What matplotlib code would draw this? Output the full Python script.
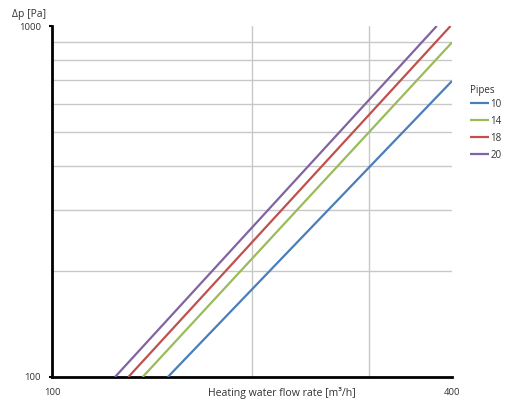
import matplotlib
matplotlib.use("Agg")
import matplotlib.pyplot as plt
from matplotlib.ticker import FixedLocator, NullFormatter

# ── Data (log-log straight lines, endpoints) ─────────────────────────────
pipes = ["10", "14", "18", "20"]
flow_10 = [149.4, 400.0]
dp_10 = [100.0, 697.0]
flow_14 = [136.9, 400.0]
dp_14 = [100.0, 898.0]
flow_18 = [130.3, 398.0]
dp_18 = [100.0, 1000.0]
flow_20 = [124.4, 379.4]
dp_20 = [100.0, 1000.0]
colors = ["#4a7ebb", "#9bbb59", "#c0504d", "#8064a2"]

x_ticks = [100, 400]
y_ticks = [100, 1000]
x_grid = [200, 300, 400]
y_grid = [200, 300, 400, 500, 600, 700, 800, 900, 1000]

plt.rcParams["font.family"] = ["Open Sans", "DejaVu Sans"]

fig = plt.figure(figsize=(5.19, 4.03), dpi=100)
ax = fig.add_axes([52 / 519, 1 - 377 / 403, 400 / 519, 351 / 403])

series = [(flow_10, dp_10), (flow_14, dp_14), (flow_18, dp_18), (flow_20, dp_20)]
for (fx, dy), name, col in zip(series, pipes, colors):
    ax.plot(fx, dy, color=col, lw=1.6, label=name, solid_capstyle="butt", zorder=3)

ax.set_xscale("log")
ax.set_yscale("log")
ax.set_xlim(100, 400)
ax.set_ylim(100, 1000)

ax.set_xticks(x_ticks, [str(v) for v in x_ticks])
ax.set_yticks(y_ticks, [str(v) for v in y_ticks])
ax.xaxis.set_minor_locator(FixedLocator(x_grid))
ax.yaxis.set_minor_locator(FixedLocator(y_grid))
ax.xaxis.set_minor_formatter(NullFormatter())
ax.yaxis.set_minor_formatter(NullFormatter())
ax.tick_params(which="minor", length=0)
ax.tick_params(which="major", length=2, width=1.5, labelsize=6.8, color="black",
               labelcolor="#333333")
ax.tick_params(axis="x", which="major", length=0, pad=8)
ax.tick_params(axis="y", which="major", pad=6)
ax.grid(which="minor", color="#c8c8c8", lw=1.0, zorder=0)

for s in ["top", "right"]:
    ax.spines[s].set_visible(False)
ax.spines["left"].set_linewidth(2)
ax.spines["bottom"].set_linewidth(2)

fig.text(12 / 519, 1 - 14 / 403, "Δp [Pa]", fontsize=7.5, color="#333333", va="center")
fig.text(282 / 519, 1 - 393 / 403, "Heating water flow rate [m³/h]", fontsize=7.6,
         color="#333333", ha="center", va="center")

leg = ax.legend(title="Pipes", loc="upper left", bbox_to_anchor=(470 / 519, 1 - 85 / 403),
                bbox_transform=fig.transFigure, frameon=False, fontsize=7,
                title_fontsize=7, handlelength=2.0, handletextpad=0.1,
                labelspacing=0.62, borderaxespad=0, borderpad=0)
leg._legend_box.align = "left"
leg._legend_box.sep = 2
for t in leg.get_texts():
    t.set_color("#333333")
leg.get_title().set_color("#333333")

plt.savefig("out.png", dpi=100)
plt.close()
